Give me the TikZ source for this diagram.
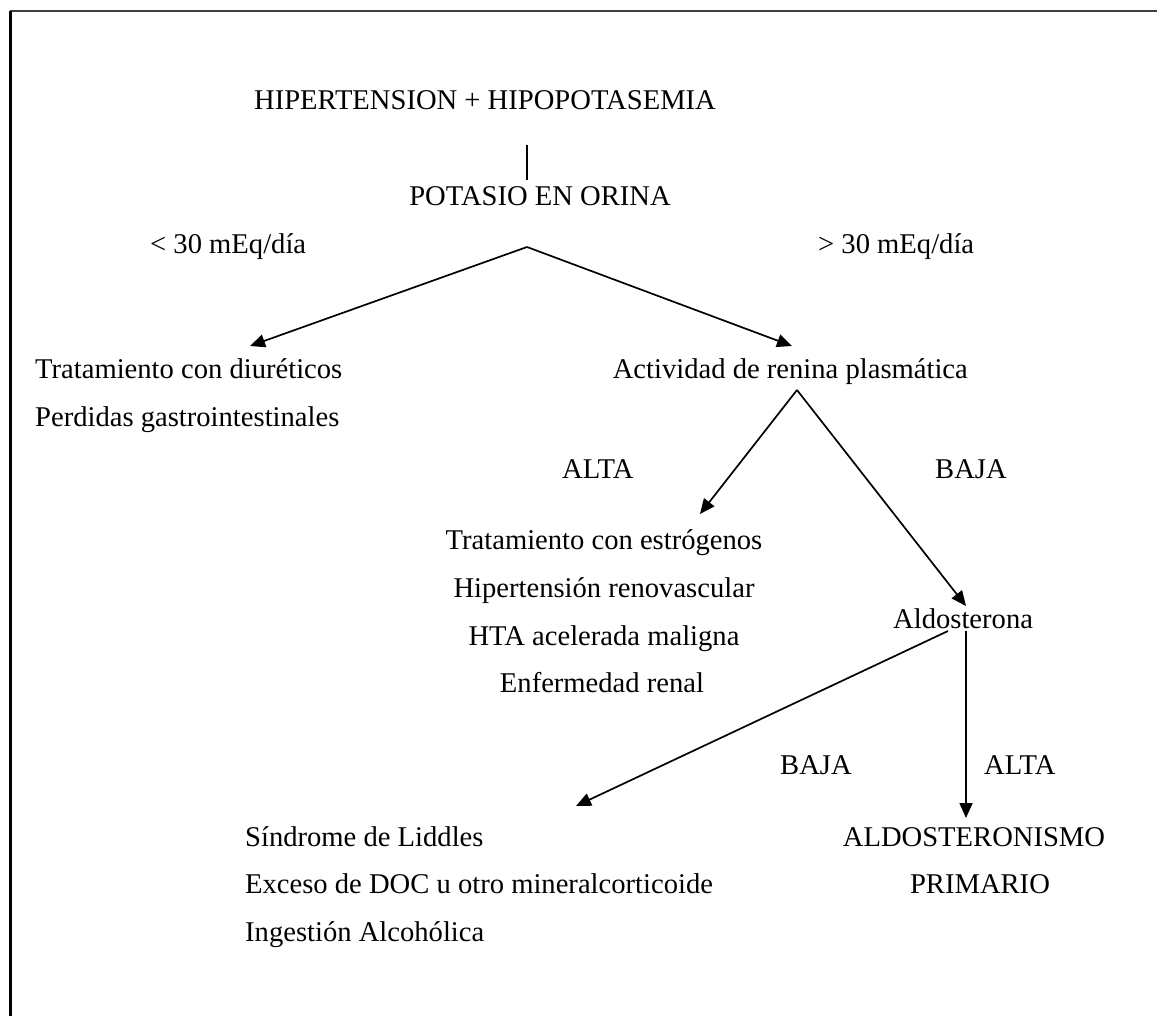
\documentclass[tikz,border=0pt]{standalone}
\usepackage{fontspec}
\setmainfont{Liberation Serif}
\usetikzlibrary{arrows.meta}
\begin{document}
\begin{tikzpicture}[x=1pt,y=-1pt,
  lbl/.style={inner sep=0pt,anchor=base west,font=\fontsize{28.6}{34}\selectfont},
  clbl/.style={lbl,anchor=base},
  conn/.style={line width=1.7pt},
  arr/.style={conn,-{Triangle[length=15pt,width=13pt]}}]
\useasboundingbox (0,0) rectangle (1157,1016);
% page frame (top and left rules only)
\draw[line width=2.6pt,black!75] (10,11) -- (1157,11);
\draw[line width=3pt] (10,11) -- (10,1016);

% texts
\node[clbl] (top)  at (485,110) {HIPERTENSION + HIPOPOTASEMIA};
\node[clbl] (kur)  at (540,206) {POTASIO EN ORINA};
\node[lbl] (lo30) at (150,254) {< 30 mEq/día};
\node[lbl] (hi30) at (818,254) {> 30 mEq/día};
\node[lbl] (diu)  at (35,378) {Tratamiento con diuréticos};
\node[lbl] (gas)  at (35,426) {Perdidas gastrointestinales};
\node[lbl,anchor=base east] (arp) at (968,378) {Actividad de renina plasmática};
\node[lbl] (alta1) at (562,478) {ALTA};
\node[lbl] (baja1) at (935,478) {BAJA};
\node[clbl] (est)  at (604,549) {Tratamiento con estrógenos};
\node[clbl] (ren)  at (604,597) {Hipertensión renovascular};
\node[clbl] (hta)  at (604,645) {HTA acelerada maligna};
\node[clbl] (enf)  at (602,692) {Enfermedad renal};
\node[lbl] (ald)  at (893,628) {Aldosterona};
\node[lbl] (baja2) at (780,774) {BAJA};
\node[lbl] (alta2) at (984,774) {ALTA};
\node[lbl] (lid)  at (245,846) {Síndrome de Liddles};
\node[lbl] (doc)  at (245,893) {Exceso de DOC u otro mineralcorticoide};
\node[lbl] (alc)  at (245,941) {Ingestión Alcohólica};
\node[clbl] (prim1) at (974,846) {ALDOSTERONISMO};
\node[clbl] (prim2) at (980,893) {PRIMARIO};

% connector end points
\coordinate (topS) at (527,145);
\coordinate (kurN) at (527,180);
\coordinate (kurS) at (527,247);
\coordinate (diuN) at (250,346);
\coordinate (arpN) at (792,346);
\coordinate (arpS) at (797,390);
\coordinate (estN) at (700,514);
\coordinate (aldN) at (966,606);
\coordinate (aldSW) at (948,631);
\coordinate (aldS) at (966,631);
\coordinate (lidE) at (576,806);
\coordinate (primN) at (966,818);

% connectors
\draw[conn] (topS) -- (kurN);
\draw[arr] (kurS) -- (diuN);
\draw[arr] (kurS) -- (arpN);
\draw[arr] (arpS) -- (estN);
\draw[arr] (arpS) -- (aldN);
\draw[arr] (aldSW) -- (lidE);
\draw[arr] (aldS) -- (primN);
\end{tikzpicture}
\end{document}
